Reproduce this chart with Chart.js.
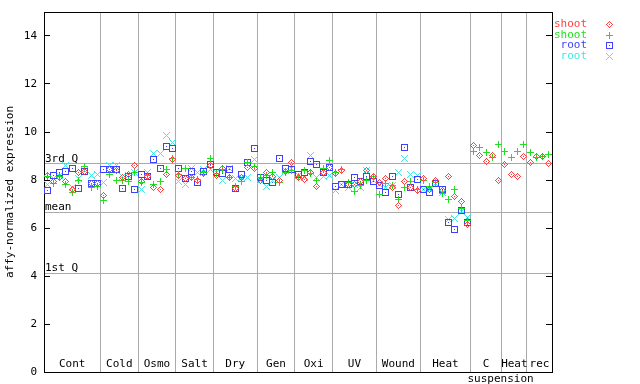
<!DOCTYPE html>
<html lang="en">
<head>
<meta charset="UTF-8">
<title>affy-normalized expression</title>
<style>
  html, body { margin: 0; padding: 0; background: #fff; }
</style>
<script src="https://cdn.jsdelivr.net/npm/chart.js"></script>
</head>
<body>
<canvas id="expr" width="640" height="384"></canvas>
<script>
// one x slot per sample, groups in this order
const groupNames = ['Cont', 'Cold', 'Osmo', 'Salt', 'Dry', 'Gen', 'Oxi', 'UV', 'Wound', 'Heat', 'C\nsuspension', 'Heat', 'rec'];
const groupSizes = [9, 6, 6, 6, 7, 6, 6, 7, 7, 8, 5, 4, 4];

const shootRed = [
  8.2, 7.95, 8.1, 7.95, 7.6, 8.3, 8.35, 7.85, 7.85,
  7.35, 8.45, 8.4, 8.1, 8.22, 8.6,
  7.95, 8.13, 7.7, 7.6, 8.22, 8.85,
  8.2, 8.05, 8.1, 8.0, 8.28, 8.6,
  8.2, 8.47, 8.09, 7.64, 8.1, 8.54, 8.5,
  8.0, 8.33, 8.13, 8.0, 8.36, 8.72,
  8.1, 8.03, 8.3, 7.74, 8.33, 8.54,
  8.27, 8.39, 7.8, 7.8, 7.95, 8.4, 8.13,
  7.89, 8.06, 7.67, 6.95, 7.95, 7.7, 7.57,
  8.06, 7.6, 7.99, 7.55, 8.13, 7.33, 7.1, 6.14,
  9.45, 9.03, 8.78, 9.03, 7.99,
  8.64, 8.22, 8.13, 8.96,
  8.72, 9.0, 9.0, 8.68
];
const shootGreen = [
  8.15, 7.85, 8.15, 7.8, 7.5, 8.0, 8.55, 7.7, 7.75,
  7.15, 8.25, 8.0, 8.0, 7.95, 8.3,
  7.9, 8.2, 7.8, 7.95, 8.45, 8.89,
  8.22, 8.47, 8.1, 8.03, 8.3, 8.89,
  8.27, 8.45, 8.09, 7.75, 7.95, 8.72, 8.55,
  8.09, 8.2, 8.3, 7.9, 8.3, 8.4,
  8.13, 8.4, 8.28, 7.99, 8.47, 8.82,
  8.33, 8.43, 7.9, 7.53, 7.78, 8.0, 8.13,
  7.39, 7.85, 7.78, 7.2, 7.67, 7.92, 7.6,
  8.0, 7.75, 7.9, 7.43, 7.2, 7.61, 6.8, 6.32,
  9.2, 9.36, 9.14, 8.92, 9.47,
  9.2, 8.93, 9.17, 9.47,
  9.14, 8.93, 8.98, 9.06
];
const rootBlue = [
  7.55, 8.2, 8.3, 8.35, 8.5, 7.65, 8.35, 7.85, 7.85,
  8.45, 8.45, 8.45, 7.65, 8.13, 7.6,
  8.22, 8.13, 8.86, 8.47, 9.39, 9.31,
  8.47, 8.06, 8.36, 7.9, 8.36, 8.64,
  8.33, 8.27, 8.43, 7.64, 8.22, 8.72, 9.31,
  8.09, 7.99, 7.9, 8.89, 8.5, 8.43,
  8.22, 8.33, 8.78, 8.64, 8.33, 8.54,
  7.74, 7.81, 7.81, 8.09, 7.95, 8.15, 7.95,
  7.78, 7.47, 8.13, 7.39, 9.34, 7.7, 8.03,
  7.6, 7.5, 7.85, 7.6, 6.25, 5.95, 6.74, 6.25,
  null, null, null, null, null,
  null, null, null, null,
  null, null, null, null
];
const rootCyan = [
  7.8, 8.05, 8.2, 8.6, 7.7, 8.05, 8.4, 8.2, 8.25,
  7.9, 8.6, 8.6, 8.15, 8.2, 8.3,
  7.6, 8.33, 9.1, 9.1, 9.86, 9.56,
  7.95, 7.81, 8.5, 8.3, 8.45, 8.45,
  8.33, 7.99, 8.5, 8.06, 8.1, 8.09, 8.86,
  8.0, 7.75, 8.0, 8.09, 8.4, 8.5,
  8.2, 8.1, 9.03, 8.1, 8.13, 8.2,
  7.57, 7.8, 7.67, 7.8, 7.67, 8.4, 8.0,
  7.8, 7.7, 7.78, 8.31, 8.89, 8.22, 8.2,
  7.6, 7.6, 7.85, 7.5, 6.35, 6.39, 6.7, 6.42,
  null, null, null, null, null,
  null, null, null, null,
  null, null, null, null
];

const yTicks = [0, 2, 4, 6, 8, 10, 12, 14];
const quantileValues = [4.12, 6.65, 8.67];
const quantileNames = ['1st Q', 'mean', '3rd Q'];

// slot boundaries, group starts and centres from the group sizes
const boundaries = [];
const centers = [];
const starts = [];
let start = 0;
groupSizes.forEach(n => {
  starts.push(start);
  centers.push(start + (n - 1) / 2);
  start += n;
  boundaries.push(start - 0.5);
});
boundaries.pop();
const nSlots = start;

const FONT = { family: 'DejaVu Sans Mono', size: 11 };

// little bitmap markers like the original plot
function marker(rows, color) {
  const c = document.createElement('canvas');
  c.width = rows[0].length;
  c.height = rows.length;
  const g = c.getContext('2d');
  g.fillStyle = color;
  rows.forEach((row, y) => {
    for (let x = 0; x < row.length; x++) {
      if (row[x] === 'X') g.fillRect(x, y, 1, 1);
    }
  });
  return c;
}

const diamond = ['...X...', '..X.X..', '.X...X.', 'X..X..X', '.X...X.', '..X.X..', '...X...'];
const plus = ['...X...', '...X...', '...X...', 'XXXXXXX', '...X...', '...X...', '...X...'];
const square = ['XXXXXXX', 'X.....X', 'X.....X', 'X..X..X', 'X.....X', 'X.....X', 'XXXXXXX'];
const cross = ['X.....X', '.X...X.', '..X.X..', '...X...', '..X.X..', '.X...X.', 'X.....X'];

function toPoints(arr) {
  return arr.map((v, i) => v == null ? null : { x: i, y: v }).filter(Boolean);
}

function series(label, arr, color, shape) {
  return {
    label: label,
    data: toPoints(arr),
    borderColor: color,
    backgroundColor: color,
    pointStyle: marker(shape, color),
    pointRadius: 3.5,
    xAxisID: 'x',
    yAxisID: 'y'
  };
}

// no extra room for tick label overflow, the layout padding handles it
function noPad(s) {
  s.paddingTop = 0;
  s.paddingBottom = 0;
  s.paddingLeft = 0;
  s.paddingRight = 0;
}

const crispPlugin = {
  id: 'crisp',
  beforeDatasetsDraw(chart) {
    chart.ctx.imageSmoothingEnabled = false;
  }
};

const groupLabelPlugin = {
  id: 'groupLabels',
  afterDraw(chart) {
    const ctx = chart.ctx;
    const xs = chart.scales.x;
    const bottom = chart.chartArea.bottom;
    ctx.save();
    ctx.font = '11px "DejaVu Sans Mono"';
    ctx.fillStyle = '#000';
    ctx.textBaseline = 'middle';
    centers.forEach((c, i) => {
      const lines = groupNames[i].split('\n');
      ctx.textAlign = 'center';
      ctx.fillText(lines[0], xs.getPixelForValue(c), bottom - 8);
      // second line hangs below the axis, starting at the group's left edge
      if (lines[1]) {
        ctx.textAlign = 'left';
        ctx.fillText(lines[1], xs.getPixelForValue(starts[i] - 0.5) - 3, bottom + 7);
      }
    });
    ctx.restore();
  }
};

const sideLegendPlugin = {
  id: 'sideLegend',
  afterDraw(chart) {
    const ctx = chart.ctx;
    ctx.save();
    ctx.font = '11px "DejaVu Sans Mono"';
    ctx.textAlign = 'right';
    ctx.textBaseline = 'middle';
    ctx.imageSmoothingEnabled = false;
    chart.data.datasets.forEach((ds, i) => {
      const y = 24 + i * 10.7;
      ctx.fillStyle = ds.borderColor;
      ctx.fillText(ds.label, 587, y);
      ctx.drawImage(ds.pointStyle, 606, Math.round(y) - 3);
    });
    ctx.restore();
  }
};

new Chart(document.getElementById('expr'), {
  type: 'scatter',
  data: {
    datasets: [
      series('shoot', shootRed, '#ff4040', diamond),
      series('shoot', shootGreen, '#20e020', plus),
      series('root', rootBlue, '#4040ff', square),
      series('root', rootCyan, '#40e8e8', cross)
    ]
  },
  options: {
    responsive: false,
    animation: false,
    layout: { padding: { left: 0, right: 88, top: 12, bottom: 12 } },
    plugins: {
      legend: { display: false },
      tooltip: { enabled: false }
    },
    scales: {
      x: {
        type: 'linear',
        min: -0.5,
        max: nSlots - 0.5,
        afterBuildTicks: s => { s.ticks = boundaries.map(v => ({ value: v })); },
        ticks: { display: false },
        grid: { color: '#aaaaaa', drawTicks: false },
        border: { color: '#000' },
        afterFit: s => { s.height = 0; noPad(s); }
      },
      xt: {
        type: 'linear',
        position: 'top',
        ticks: { display: false },
        grid: { display: false },
        border: { color: '#000' },
        afterFit: s => { s.height = 0; noPad(s); }
      },
      y: {
        type: 'linear',
        position: 'left',
        weight: 1,
        min: 0,
        max: 15,
        afterBuildTicks: s => { s.ticks = yTicks.map(v => ({ value: v })); },
        ticks: { padding: 13, color: '#000', font: FONT },
        grid: { drawOnChartArea: false, color: '#000', tickLength: -6 },
        border: { color: '#000' },
        title: { display: true, text: 'affy-normalized expression', color: '#000', font: FONT, padding: { top: 4, bottom: 0 } },
        afterFit: s => { s.width = 44; noPad(s); }
      },
      yq: {
        type: 'linear',
        position: 'left',
        weight: 0,
        min: 0,
        max: 15,
        afterBuildTicks: s => { s.ticks = quantileValues.map(v => ({ value: v })); },
        ticks: {
          mirror: true,
          padding: 1,
          labelOffset: -5,
          color: '#000',
          font: FONT,
          callback: (v, i) => quantileNames[i]
        },
        grid: { color: '#aaaaaa', drawTicks: false },
        border: { display: false },
        afterFit: s => { s.width = 0; noPad(s); }
      },
      yr: {
        type: 'linear',
        position: 'right',
        min: 0,
        max: 15,
        afterBuildTicks: s => { s.ticks = yTicks.map(v => ({ value: v })); },
        ticks: { display: false },
        grid: { drawOnChartArea: false, color: '#000', tickLength: -6 },
        border: { color: '#000' },
        afterFit: s => { s.width = 0; noPad(s); }
      }
    }
  },
  plugins: [crispPlugin, groupLabelPlugin, sideLegendPlugin]
});
</script>
</body>
</html>
